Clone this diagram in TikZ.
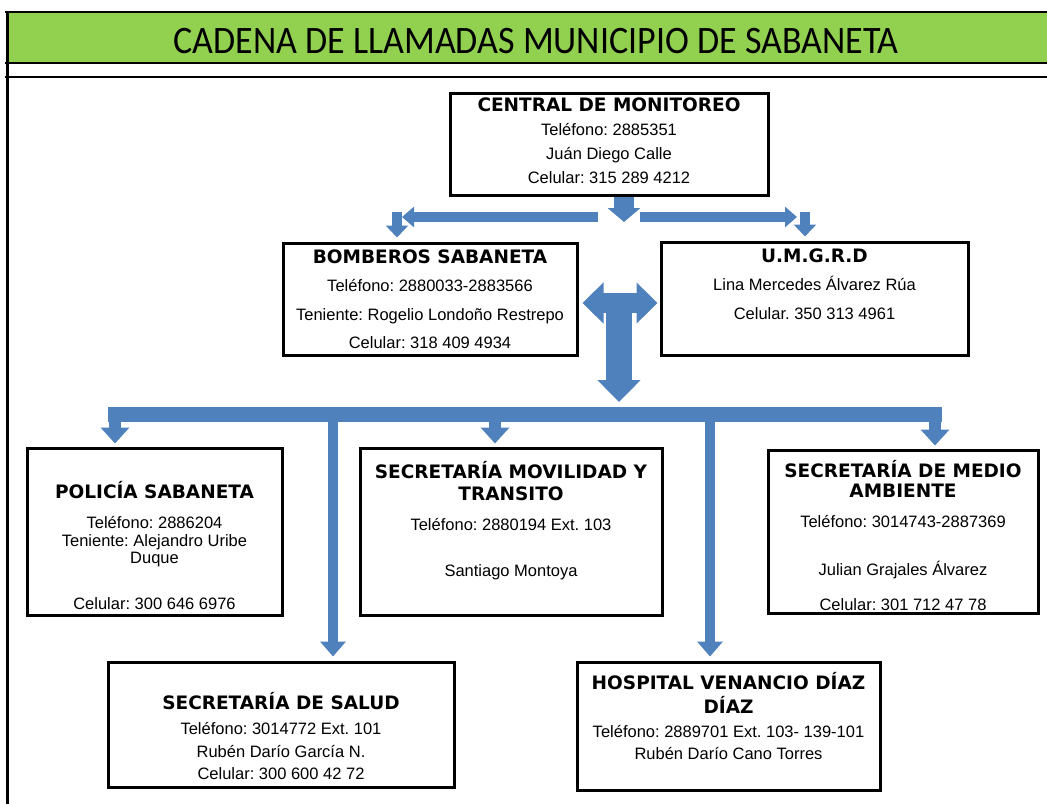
\documentclass[tikz,border=0pt]{standalone}
\usepackage{fontspec}
\setmainfont{Liberation Sans}
\newfontfamily\negrita{DejaVu Sans}
\newfontfamily\encabezado{Carlito}
\usetikzlibrary{arrows.meta,positioning}
\frenchspacing

\definecolor{verde}{HTML}{92D050}
\definecolor{azul}{HTML}{4F81BD}

% 方框标题 (粗体)
\newcommand{\tit}[1]{{\negrita\bfseries\fontsize{18.5}{17}\selectfont #1}}

\tikzset{
  caja/.style={draw, line width=3pt, inner sep=0pt, align=center, font=\fontsize{16.5}{17}\selectfont},
  flecha/.style n args={3}{draw=azul, line width=#1, -{Triangle[width=#2, length=#3]}},
}

\begin{document}
\begin{tikzpicture}[x=1pt, y=-1pt]

	% 画布大小
	\useasboundingbox (0,0) rectangle (1047,804);

	% 标题栏
	\fill[verde] (7,13) rectangle (1047,62); % 绿色背景
	\draw[line width=2.5pt] (5,12) -- (1047,12);
	\draw[line width=2pt] (5,63) -- (1047,63);
	\draw[line width=2pt] (5,77) -- (1047,77);
	\draw[line width=3pt] (7,11) -- (7,804); % 左边线
	\node[font=\encabezado\fontsize{36}{40}\selectfont, anchor=base, yscale=1.08, transform shape] (titulo) at (536,53) {CADENA DE LLAMADAS MUNICIPIO DE SABANETA};

	% 第一层
	\node[caja, minimum width=318pt, minimum height=102pt] (cm) at (609,144) {\tit{CENTRAL DE MONITOREO}\\[7pt] Teléfono: 2885351\\[7pt] Juán Diego Calle\\[7pt] Celular: 315 289 4212\\[-11pt]\mbox{}};

	% 第二层
	\node[caja, minimum width=294pt, minimum height=112pt] (bomb) at (430,299) {\tit{BOMBEROS SABANETA}\\[11pt] Teléfono: 2880033-2883566\\[12pt] Teniente: Rogelio Londoño Restrepo\\[11pt] Celular: 318 409 4934};
	\node[caja, minimum width=307pt, minimum height=113pt] (umgrd) at (814.5,298.5) {\tit{U.M.G.R.D}\\[11pt] Lina Mercedes Álvarez Rúa\\[12pt] Celular. 350 313 4961\\[11pt]\mbox{}};

	% 第三层
	\node[caja, minimum width=255pt, minimum height=167pt] (pol) at (154.5,531.5) {\mbox{}\\[27pt]\tit{POLICÍA SABANETA}\\[13pt] Teléfono: 2886204\\[1pt] Teniente: Alejandro Uribe\\ Duque\\[29pt] Celular: 300 646 6976};
	\node[caja, minimum width=302pt, minimum height=167pt] (mov) at (511,531.5) {\tit{SECRETARÍA MOVILIDAD Y}\\[5pt]\tit{TRANSITO}\\[13pt] Teléfono: 2880194 Ext. 103\\[29pt] Santiago Montoya\\[8pt]\mbox{}};
	\node[caja, minimum width=270pt, minimum height=163pt] (amb) at (903,531.5) {\rule{0pt}{25pt}\tit{SECRETARÍA DE MEDIO}\\[3pt]\tit{AMBIENTE}\\[13pt] Teléfono: 3014743-2887369\\[31pt] Julian Grajales Álvarez\\[18pt] Celular: 301 712 47 78};

	% 第四层
	\node[caja, minimum width=346pt, minimum height=125pt] (sal) at (281,724.5) {\mbox{}\\[21pt]\tit{SECRETARÍA DE SALUD}\\[8pt] Teléfono: 3014772 Ext. 101\\[6pt] Rubén Darío García N.\\[5pt] Celular: 300 600 42 72};
	\node[caja, minimum width=303pt, minimum height=128pt] (hosp) at (728.5,726) {\tit{HOSPITAL VENANCIO DÍAZ}\\[5pt]\tit{DÍAZ}\\[7pt] Teléfono: 2889701 Ext. 103- 139-101\\[5pt] Rubén Darío Cano Torres\\[3pt]\mbox{}};

	% 中央向下箭头
	\coordinate (c0) at (624,222);
	\draw[flecha={20pt}{32pt}{14pt}] (c0 |- cm.south) -- (c0);

	% 左右分支
	\coordinate (hi0) at (598,217);
	\coordinate (hi) at (402,217);
	\coordinate (hd0) at (640,217);
	\coordinate (hd) at (797,217);
	\draw[flecha={10pt}{20pt}{12pt}] (hi0) -- (hi);
	\draw[flecha={10pt}{20pt}{12pt}] (hd0) -- (hd);
	\coordinate (bi) at (397,212);
	\coordinate (bd) at (805,212);
	\draw[flecha={10pt}{22pt}{12pt}, shorten >=4pt] (bi) -- (bi |- bomb.north);
	\draw[flecha={10pt}{22pt}{12pt}, shorten >=4pt] (bd) -- (bd |- umgrd.north);

	% T 形箭头
	\coordinate (t0) at (619,303);
	\coordinate (t1) at (619,402);
	\draw[flecha={26pt}{42pt}{22pt}] (t0) -- (t1);
	\draw[draw=azul, line width=20pt, {Triangle[width=40pt,length=21pt]}-{Triangle[width=40pt,length=21pt]}, shorten <=4pt, shorten >=2pt] (bomb.east |- t0) -- (umgrd.west |- t0);

	% 横杆
	\coordinate (ba) at (108,414);
	\coordinate (bb) at (942,414);
	\draw[azul, line width=15pt] (ba) -- (bb);

	% 向下的分支
	\coordinate (d1) at (115,414);
	\coordinate (d2) at (495,414);
	\coordinate (d3) at (935,414);
	\coordinate (d4) at (333,414);
	\coordinate (d5) at (710,414);
	\draw[flecha={12pt}{28pt}{16pt}, shorten >=3pt] (d1) -- (d1 |- pol.north);
	\draw[flecha={12pt}{28pt}{16pt}, shorten >=3pt] (d2) -- (d2 |- mov.north);
	\draw[flecha={12pt}{28pt}{16pt}, shorten >=3pt] (d3) -- (d3 |- amb.north);
	\draw[flecha={10pt}{25pt}{15pt}, shorten >=4pt] (d4) -- (d4 |- sal.north);
	\draw[flecha={10pt}{25pt}{15pt}, shorten >=4pt] (d5) -- (d5 |- hosp.north);

\end{tikzpicture}
\end{document}
